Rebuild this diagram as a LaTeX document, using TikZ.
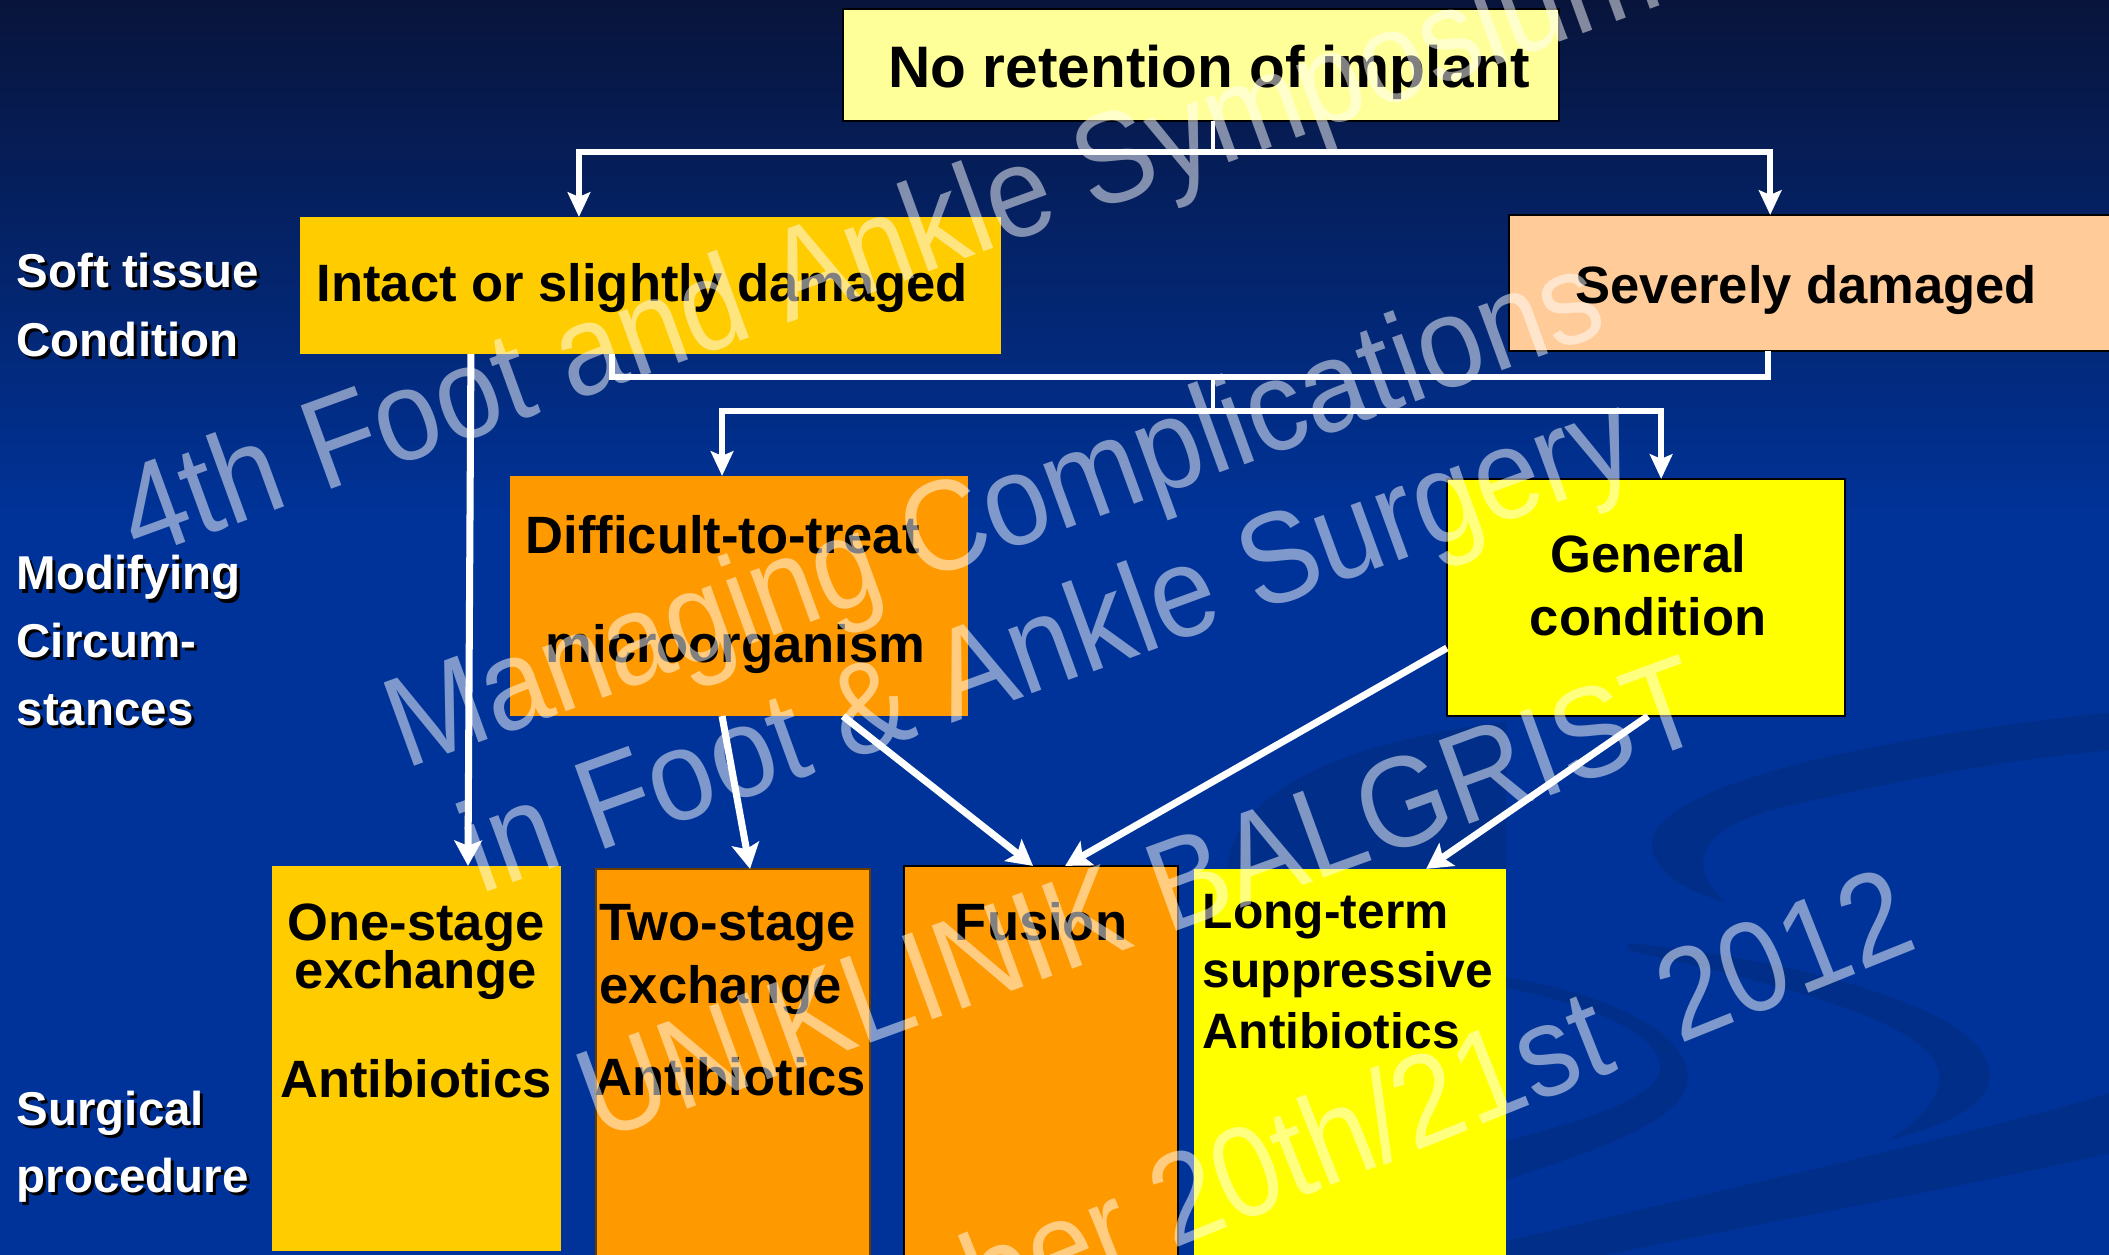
\documentclass[tikz,border=0pt]{standalone}
\usepackage{fontspec}
\setmainfont{Liberation Sans}
\usetikzlibrary{arrows.meta,calc}

\definecolor{bgTop}{HTML}{08143B}
\definecolor{bgBlue}{HTML}{003399}
\definecolor{swirlBlue}{HTML}{002E88}
\definecolor{paleYellow}{HTML}{FFFF99}
\definecolor{goldFill}{HTML}{FFCC00}
\definecolor{peachFill}{HTML}{FFCC99}
\definecolor{orangeFill}{HTML}{FF9900}
\definecolor{yellowFill}{HTML}{FFFF00}

\tikzset{
  box/.style={rectangle, inner sep=0pt, outer sep=0pt},
  edged/.style={draw=black, line width=0.6pt},
  boxtext/.style={inner sep=0pt, anchor=base west, text=black,
    font={\fontsize{14.94pt}{17pt}\selectfont\bfseries}},
  smalltext/.style={boxtext, font={\fontsize{14.14pt}{17pt}\selectfont\bfseries}},
  titletext/.style={boxtext, font={\fontsize{16.65pt}{19pt}\selectfont\bfseries}},
  side/.style={inner sep=0pt, anchor=base west,
    font={\fontsize{13.5pt}{16pt}\selectfont\bfseries}},
  bus/.style={draw=white, line width=1.7pt, line join=miter},
  feed/.style={draw=white, line width=1.3pt},
  tip/.tip={Stealth[length=7pt, width=6.4pt, inset=1.3pt]},
  bigtip/.tip={Stealth[length=7.2pt, width=7.8pt, inset=1.5pt]},
  flow/.style={draw=white, line width=2pt, -bigtip},
  wm/.style={inner sep=0pt, anchor=base west, rotate=20, yscale=1.1, text=white,
    text opacity=0.5, font={\fontsize{33.3pt}{38pt}\selectfont}},
}

% white side heading with a black drop shadow
\newcommand\sidelabel[4]{%
  \node[side, text=black] (#1-shadow) at (#2+3,#3+3) {#4};
  \node[side, text=white] (#1) at (#2,#3) {#4};}

\begin{document}
\begin{tikzpicture}[x=0.01cm, y=-0.01cm]
\useasboundingbox (0,0) rectangle (2109,1255);
\clip (0,0) rectangle (2109,1255);

% background
\fill[bgBlue] (0,0) rectangle (2109,1255);
\shade[top color=bgTop, bottom color=bgBlue] (0,-1) rectangle (2109,520);

% darker swirls, lower right
\fill[swirlBlue] (2115,712) .. controls (1850,740) and (1640,790) .. (1652,850)
  .. controls (1660,880) and (1700,895) .. (1725,902)
  .. controls (1690,870) and (1690,830) .. (1780,808)
  .. controls (1900,780) and (2000,760) .. (2115,750) -- cycle;
\fill[swirlBlue] (1628,943) .. controls (1800,960) and (1990,1010) .. (1990,1075)
  .. controls (1990,1110) and (1930,1130) .. (1888,1140)
  .. controls (1920,1120) and (1945,1095) .. (1938,1070)
  .. controls (1925,1020) and (1780,985) .. (1628,950) -- cycle;
\fill[swirlBlue] (1490,975) .. controls (1600,990) and (1690,1030) .. (1688,1080)
  .. controls (1685,1120) and (1600,1150) .. (1490,1185) -- (1490,1145)
  .. controls (1590,1120) and (1665,1095) .. (1660,1065)
  .. controls (1655,1030) and (1580,1000) .. (1490,985) -- cycle;
\fill[swirlBlue] (1490,1245) .. controls (1700,1195) and (1950,1140) .. (2115,1092)
  -- (2115,1152) .. controls (1950,1190) and (1750,1225) .. (1580,1260)
  -- (1490,1260) -- cycle;
\fill[swirlBlue] (1506,722) .. controls (1350,740) and (1232,790) .. (1228,868)
  -- (1506,868) -- cycle;

% boxes
\node[box, edged, fill=paleYellow, minimum width=7.16cm, minimum height=1.12cm] (top) at (1201,65) {};
\node[box, fill=goldFill, minimum width=7.01cm, minimum height=1.37cm] (intact) at (650.5,285.5) {};
\node[box, edged, fill=peachFill, minimum width=6.06cm, minimum height=1.36cm] (severe) at (1812,283) {};
\node[box, fill=orangeFill, minimum width=4.58cm, minimum height=2.40cm] (difficult) at (739,596) {};
\node[box, edged, fill=yellowFill, minimum width=3.98cm, minimum height=2.37cm] (general) at (1646,597.5) {};
\node[box, fill=goldFill, minimum width=2.89cm, minimum height=3.85cm] (one) at (416.5,1058.5) {};
\node[box, draw=black!60!orangeFill, line width=0.6pt, fill=orangeFill, minimum width=2.74cm, minimum height=3.96cm] (two) at (733,1067) {};
\node[box, edged, fill=orangeFill, minimum width=2.74cm, minimum height=3.99cm] (fusion) at (1041,1065.5) {};
\node[box, fill=yellowFill, minimum width=3.12cm, minimum height=3.96cm] (long) at (1350,1067) {};

% box texts
\node[titletext] (topT) at (888,88) {No retention of implant};
\node[boxtext] (intactT) at (316,302) {Intact or slightly damaged};
\node[boxtext] (severeT) at (1575,304) {Severely damaged};
\node[boxtext] (diffT1) at (525,553) {Difficult-to-treat};
\node[boxtext] (diffT2) at (545,662) {microorganism};
\node[boxtext, anchor=base] (genT1) at (1648,572) {General};
\node[boxtext, anchor=base] (genT2) at (1648,635) {condition};
\node[boxtext, anchor=base] (oneT1) at (416,940) {One-stage};
\node[boxtext, anchor=base] (oneT2) at (416,988) {exchange};
\node[boxtext, anchor=base] (oneT3) at (416,1097) {Antibiotics};
\node[boxtext] (twoT1) at (599,940) {Two-stage};
\node[boxtext] (twoT2) at (599,1003) {exchange};
\node[boxtext] (twoT3) at (594,1095) {Antibiotics};
\node[boxtext, anchor=base] (fusionT) at (1041,940) {Fusion};
\node[smalltext] (longT1) at (1202,928) {Long-term};
\node[smalltext] (longT2) at (1202,987) {suppressive};
\node[smalltext] (longT3) at (1202,1048) {Antibiotics};

% row headings
\sidelabel{soft}{16}{288}{Soft tissue}
\sidelabel{cond}{16}{357}{Condition}
\sidelabel{modif}{16}{590}{Modifying}
\sidelabel{circ}{16}{657}{Circum-}
\sidelabel{stan}{16}{725}{stances}
\sidelabel{surg}{16}{1125}{Surgical}
\sidelabel{proc}{16}{1192}{procedure}

% connector levels
\coordinate (busA) at (0,152);
\coordinate (busB) at (0,377);
\coordinate (busC) at (0,411);

\coordinate (t0) at ($(top.south west)!0.517!(top.south east)$);
\coordinate (iN) at ($(intact.north west)!0.398!(intact.north east)$);
\coordinate (sN) at ($(severe.north west)!0.431!(severe.north east)$);
\coordinate (iS) at ($(intact.south west)!0.445!(intact.south east)$);
\coordinate (sS) at ($(severe.south west)!0.427!(severe.south east)$);
\coordinate (dN) at ($(difficult.north west)!0.463!(difficult.north east)$);
\coordinate (gN) at ($(general.north west)!0.538!(general.north east)$);

% tree connectors
\draw[feed] (t0) -- (t0 |- busA);
\draw[bus, tip-tip] (iN) -- (iN |- busA) -- (sN |- busA) -- (sN);
\draw[bus] (iS) -- (iS |- busB) -- (sS |- busB) -- (sS);
\draw[feed] (t0 |- busB) -- (t0 |- busC);
\draw[bus, tip-tip] (dN) -- (dN |- busC) -- (gN |- busC) -- (gN);

% arrows to the procedures
\draw[flow] ($(intact.south west)!0.244!(intact.south east)$) -- ($(one.north west)!0.678!(one.north east)$);
\draw[flow] ($(difficult.south west)!0.463!(difficult.south east)$) -- ($(two.north west)!0.562!(two.north east)$);
\draw[flow] ($(difficult.south west)!0.727!(difficult.south east)$) -- ($(fusion.north west)!0.471!(fusion.north east)$);
\draw[flow] ($(general.north west)!0.713!(general.south west)$) -- ($(fusion.north west)!0.588!(fusion.north east)$);
\draw[flow] ($(general.south west)!0.505!(general.south east)$) -- ($(long.north west)!0.744!(long.north east)$);

% watermark
\node[wm] (wm1) at (138,560) {4th Foot and Ankle Symposium};
\node[wm] (wm2) at (405,770) {Managing Complications};
\node[wm] (wm3) at (480,895) {in Foot \& Ankle Surgery};
\node[wm] (wm4) at (598,1142) {UNIKLINIK BALGRIST};
\node[wm, anchor=base east, rotate=1.8] (wm5) at (1922,947) {September 20th/21st\ \ 2012};
\end{tikzpicture}
\end{document}
